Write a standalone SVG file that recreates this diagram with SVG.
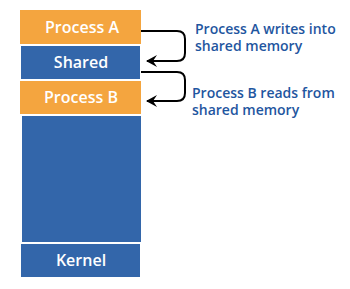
<svg xmlns="http://www.w3.org/2000/svg" width="350" height="289" viewBox="0 0 350 289">
<defs>
<style>
.or{fill:#F4A53F;}
.bl{fill:#3366AA;}
.bt{font-family:"Open Sans","DejaVu Sans",sans-serif;font-weight:600;font-size:16px;fill:#ffffff;text-anchor:middle;}
.lb{font-family:"Open Sans","DejaVu Sans",sans-serif;font-weight:600;font-size:14px;fill:#1F56A0;}
.cn{fill:none;stroke:#000;stroke-width:2;}
</style>
<marker id="ah" markerWidth="12" markerHeight="12" refX="10" refY="6" orient="auto" markerUnits="userSpaceOnUse" viewBox="0 0 12 12">
<path d="M0,0 L11,6 L0,12 L4,6 Z" fill="#000"/>
</marker>
</defs>
<rect width="350" height="289" fill="#fff"/>
<g id="processA"><rect class="or" x="20" y="10" width="121" height="34"/><text class="bt" x="82" y="33">Process A</text></g>
<g id="shared"><rect class="bl" x="21" y="46" width="119" height="33"/><text class="bt" x="81" y="68">Shared</text></g>
<g id="processB"><rect class="or" x="20" y="81" width="121" height="33"/><text class="bt" x="81" y="103">Process B</text></g>
<g id="memory"><rect class="bl" x="22" y="116" width="119" height="126"/></g>
<g id="kernel"><rect class="bl" x="21" y="244" width="119" height="33"/><text class="bt" x="81" y="266">Kernel</text></g>
<g id="connectors">
<path class="cn" d="M141,31 H177 Q185,31 185,39 V53 Q185,61 177,61 H147" marker-end="url(#ah)"/>
<path class="cn" d="M141,72 H177 Q185,72 185,80 V93 Q185,101 177,101 H147" marker-end="url(#ah)"/>
</g>
<g id="labels">
<text class="lb" x="195" y="34">Process A writes into</text>
<text class="lb" x="195" y="51">shared memory</text>
<text class="lb" x="192" y="98">Process B reads from</text>
<text class="lb" x="192" y="115">shared memory</text>
</g>
</svg>
